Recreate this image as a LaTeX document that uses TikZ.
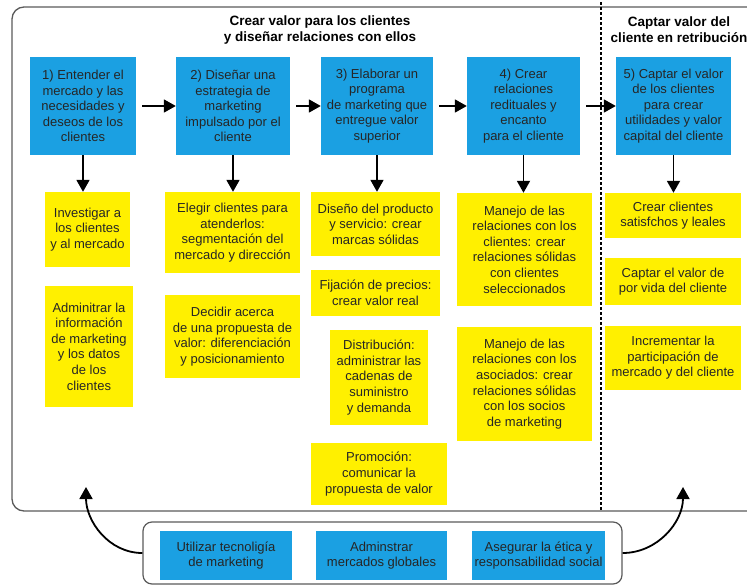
\documentclass[tikz,border=0pt]{standalone}
\usepackage{fontspec}
\setmainfont{Liberation Sans}
\usetikzlibrary{arrows.meta}
\definecolor{stepblue}{RGB}{27,160,226}
\definecolor{noteyellow}{RGB}{255,240,0}
\definecolor{framegray}{RGB}{90,90,90}
\tikzset{
  box/.style={inner sep=1pt, align=center, font=\fontsize{13}{15.6}\selectfont, text=black!85},
  bluebox/.style={box, fill=stepblue},
  yelbox/.style={box, fill=noteyellow},
  sz/.style n args={2}{minimum width=#1pt, minimum height=#2pt},
  flow/.style={line width=1.8pt, -{Triangle[length=12pt,width=13pt]}},
  heading/.style={align=center, font=\bfseries\fontsize{13.5}{16}\selectfont},
}
\begin{document}
\begin{tikzpicture}[x=1pt,y=-1pt]
\useasboundingbox (0,0) rectangle (747,584);
% outer frame (right edge runs off the page)
\draw[framegray, line width=1.3pt, rounded corners=12pt] (770,7) -- (12,7) -- (12,511) -- (770,511);
% divider between the two parts
\draw[black, line width=1.3pt, dash pattern=on 3pt off 2pt] (601,2) -- (601,511);

% headings
\node[heading] (h1) at (320,30) {Crear valor para los clientes\\y diseñar relaciones con ellos};
\node[heading] (h2) at (679,30) {Captar valor del\\cliente en retribución};

% main steps
\node[bluebox, sz={106}{98}] (b1) at (83,106) {1) Entender el\\mercado y las\\necesidades y\\deseos de los\\clientes};
\node[bluebox, sz={114}{98}] (b2) at (233,106) {2) Diseñar una\\estrategia de\\marketing\\impulsado por el\\cliente};
\node[bluebox, sz={112}{98}] (b3) at (377,106) {3) Elaborar un\\programa\\de marketing que\\entregue valor\\superior};
\node[bluebox, sz={113}{98}] (b4) at (523.5,106) {4) Crear\\relaciones\\redituales y\\encanto\\para el cliente};
\node[bluebox, sz={115}{98}] (b5) at (673.5,106) {5) Captar el valor\\de los clientes\\para crear\\utilidades y valor\\capital del cliente};

\draw[flow, shorten <=6pt] (b1) -- (b2);
\draw[flow, shorten <=6pt] (b2) -- (b3);
\draw[flow, shorten <=6pt] (b3) -- (b4);
\draw[flow, shorten <=6pt] (b4) -- (b5);

% column 1
\node[yelbox, sz={85}{75}] (y1a) at (87.5,229.5) {Investigar a\\los clientes\\y al mercado};
\node[yelbox, sz={88}{121}] (y1b) at (89,346.5) {Adminitrar la\\información\\de marketing\\y los datos\\de los\\clientes};
% column 2
\node[yelbox, sz={135}{81}] (y2a) at (232.5,232.5) {Elegir clientes para\\atenderlos:\\segmentación del\\mercado y dirección};
\node[yelbox, sz={135}{83}] (y2b) at (232.5,336.5) {Decidir acerca\\de una propuesta de\\valor: diferenciación\\y posicionamiento};
% column 3
\node[yelbox, sz={129}{64}] (y3a) at (375.5,224) {Diseño del producto\\y servicio: crear\\marcas sólidas};
\node[yelbox, sz={129}{46}] (y3b) at (375.5,293) {Fijación de precios:\\crear valor real};
\node[yelbox, sz={98}{95}] (y3c) at (379,377.5) {Distribución:\\administrar las\\cadenas de\\suministro\\y demanda};
\node[yelbox, sz={136}{62}] (y3d) at (379,474) {Promoción:\\comunicar la\\propuesta de valor};
% column 4
\node[yelbox, sz={135}{113}] (y4a) at (524.5,249.5) {Manejo de las\\relaciones con los\\clientes: crear\\relaciones sólidas\\con clientes\\seleccionados};
\node[yelbox, sz={135}{114}] (y4b) at (524.5,384) {Manejo de las\\relaciones con los\\asociados: crear\\relaciones sólidas\\con los socios\\de marketing};
% column 5
\node[yelbox, sz={136}{45}] (y5a) at (673,215.5) {Crear clientes\\satisfchos y leales};
\node[yelbox, sz={136}{47}] (y5b) at (673,281.5) {Captar el valor de\\por vida del cliente};
\node[yelbox, sz={136}{64}] (y5c) at (673,358) {Incrementar la\\participación de\\mercado y del cliente};

\draw[flow] (b1.south) -- (b1.south |- y1a.north);
\draw[flow] (b2.south) -- (b2.south |- y2a.north);
\draw[flow] (b3.south) -- (b3.south |- y3a.north);
\draw[flow] (b4.south) -- (b4.south |- y4a.north);
\draw[flow] (b5.south) -- (b5.south |- y5a.north);

% supporting activities
\node[draw=framegray, line width=1.2pt, rounded corners=9pt, minimum width=479pt, minimum height=62pt] (sup) at (382.5,553) {};
\node[bluebox, sz={132}{49}] (s1) at (226,555.5) {Utilizar tecnoligía\\de marketing};
\node[bluebox, sz={131}{49}] (s2) at (381.5,555.5) {Adminstrar\\mercados globales};
\node[bluebox, sz={133}{49}] (s3) at (538.5,555.5) {Asegurar la ética y\\responsabilidad social};

\coordinate (lt) at (86,487);
\coordinate (rt) at (683,487);
\draw[flow] (sup.west) to[out=180, in=-90] (lt);
\draw[flow] (sup.east) to[out=0, in=-90] (rt);
\end{tikzpicture}
\end{document}
